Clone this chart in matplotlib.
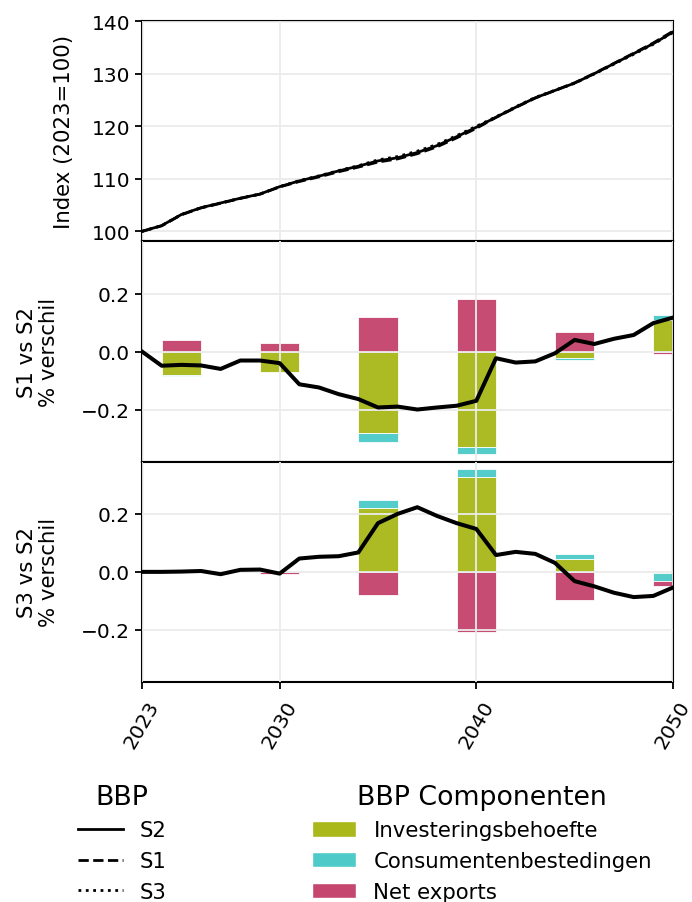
import numpy as np
import matplotlib
matplotlib.use("Agg")
import matplotlib.pyplot as plt
from matplotlib.lines import Line2D
from matplotlib.patches import Patch

years = list(range(2023, 2051))

# BBP index, scenario S2 (2023 = 100)
bbp_s2 = [100.0, 101.1, 103.2, 104.5, 105.4, 106.3, 107.1, 108.5, 109.6, 110.5,
          111.5, 112.4, 113.4, 114.0, 115.0, 116.3, 118.0, 119.8, 121.7, 123.6,
          125.4, 126.8, 128.2, 130.0, 131.9, 133.8, 135.7, 137.9]

# % verschil t.o.v. S2
s1_vs_s2 = [0.000, -0.049, -0.046, -0.048, -0.060, -0.031, -0.031, -0.040, -0.113, -0.124,
            -0.147, -0.164, -0.193, -0.190, -0.200, -0.193, -0.187, -0.170, -0.023, -0.038,
            -0.034, -0.006, 0.040, 0.026, 0.044, 0.057, 0.098, 0.117]
s3_vs_s2 = [0.000, 0.000, 0.001, 0.003, -0.008, 0.007, 0.008, -0.006, 0.046, 0.052,
            0.054, 0.067, 0.168, 0.200, 0.223, 0.193, 0.168, 0.148, 0.058, 0.069,
            0.062, 0.031, -0.032, -0.050, -0.072, -0.087, -0.083, -0.054]

# componenten per 5 jaar
comp_years = [2025, 2030, 2035, 2040, 2045, 2050]
components = ["Investeringsbehoefte", "Consumentenbestedingen", "Net exports"]
comp_colors = ["#aab81c", "#4ecbc8", "#c5466e"]

s1_invest = [-0.080, -0.071, -0.282, -0.331, -0.021, 0.108]
s1_consum = [-0.006, 0.000, -0.031, -0.022, -0.009, 0.017]
s1_export = [0.040, 0.029, 0.118, 0.182, 0.067, -0.008]

s3_invest = [0.000, 0.000, 0.220, 0.326, 0.045, -0.005]
s3_consum = [0.000, 0.000, 0.029, 0.028, 0.016, -0.027]
s3_export = [0.000, -0.007, -0.081, -0.206, -0.098, -0.018]

bbp_s1 = [v * (1 + d / 100) for v, d in zip(bbp_s2, s1_vs_s2)]
bbp_s3 = [v * (1 + d / 100) for v, d in zip(bbp_s2, s3_vs_s2)]

plt.rcParams['font.family'] = ['DejaVu Sans']
FS = 14.5
LFS = 15.3

fig = plt.figure(figsize=(6.92, 9.03), dpi=100)
left, right = 0.2052, 0.9725
top, bottom = 0.9756, 0.2436
h = (top - bottom) / 3
ax0 = fig.add_axes([left, bottom + 2 * h, right - left, h])
ax1 = fig.add_axes([left, bottom + h, right - left, h], sharex=ax0)
ax2 = fig.add_axes([left, bottom, right - left, h], sharex=ax0)

grid_kw = dict(color="#ebebeb", linewidth=1.3)

# index panel
ax0.plot(years, bbp_s2, color="black", lw=2.0, ls="-", zorder=3)
ax0.plot(years, bbp_s1, color="black", lw=2.0, ls="--", zorder=3)
ax0.plot(years, bbp_s3, color="black", lw=2.0, ls=":", zorder=3)
ax0.set_ylim(98.1, 140)
ax0.set_yticks([100, 110, 120, 130, 140])
ax0.set_ylabel("Index (2023=100)", fontsize=LFS, labelpad=13)


def stacked(ax, parts):
    pos = np.zeros(len(comp_years))
    neg = np.zeros(len(comp_years))
    for vals, col in zip(parts, comp_colors):
        vals = np.array(vals)
        base = np.where(vals >= 0, pos, neg)
        ax.bar(comp_years, vals, width=2, bottom=base, color=col,
               edgecolor="white", linewidth=0.6, alpha=0.97, zorder=1)
        pos = pos + np.clip(vals, 0, None)
        neg = neg + np.clip(vals, None, 0)


stacked(ax1, [s1_invest, s1_consum, s1_export])
ax1.plot(years, s1_vs_s2, color="black", lw=2.9, zorder=3)
ax1.set_ylabel("S1 vs S2\n% verschil", fontsize=LFS, labelpad=16,
               linespacing=1.15)

stacked(ax2, [s3_invest, s3_consum, s3_export])
ax2.plot(years, s3_vs_s2, color="black", lw=2.9, zorder=3)
ax2.set_ylabel("S3 vs S2\n% verschil", fontsize=LFS, labelpad=16,
               linespacing=1.15)

for ax in (ax1, ax2):
    ax.set_ylim(-0.38, 0.38)
    ax.set_yticks([-0.2, 0.0, 0.2])

for ax in (ax0, ax1, ax2):
    ax.set_axisbelow(False)
    ax.grid(True, **grid_kw)
    ax.tick_params(labelsize=FS, width=1.3, length=5)
    for s in ax.spines.values():
        s.set_linewidth(1.5)

for ax in (ax0, ax1):
    ax.tick_params(axis="x", bottom=False, labelbottom=False)

ax2.set_xlim(2023, 2050)
ax2.set_xticks([2023, 2030, 2040, 2050])
ax2.tick_params(axis="x", pad=6)
for lbl in ax2.get_xticklabels():
    lbl.set_rotation(60)
    lbl.set_ha("center")

line_handles = [Line2D([], [], color="black", lw=2.0, ls="-"),
                Line2D([], [], color="black", lw=2.0, ls="--"),
                Line2D([], [], color="black", lw=2.0, ls=":")]
leg1 = fig.legend(line_handles, ["S2", "S1", "S3"], title="BBP",
                  loc="upper left", bbox_to_anchor=(0.085, 0.152),
                  frameon=False, fontsize=LFS, title_fontsize=19.3,
                  labelspacing=0.5, handlelength=2.1)

patch_handles = [Patch(facecolor=c, edgecolor="white") for c in comp_colors]
leg2 = fig.legend(patch_handles, components, title="BBP Componenten",
                  loc="upper left", bbox_to_anchor=(0.423, 0.152),
                  frameon=False, fontsize=LFS, title_fontsize=19.3,
                  labelspacing=0.5, handlelength=2.1, handleheight=0.75)

fig.savefig("out.png", dpi=100)
